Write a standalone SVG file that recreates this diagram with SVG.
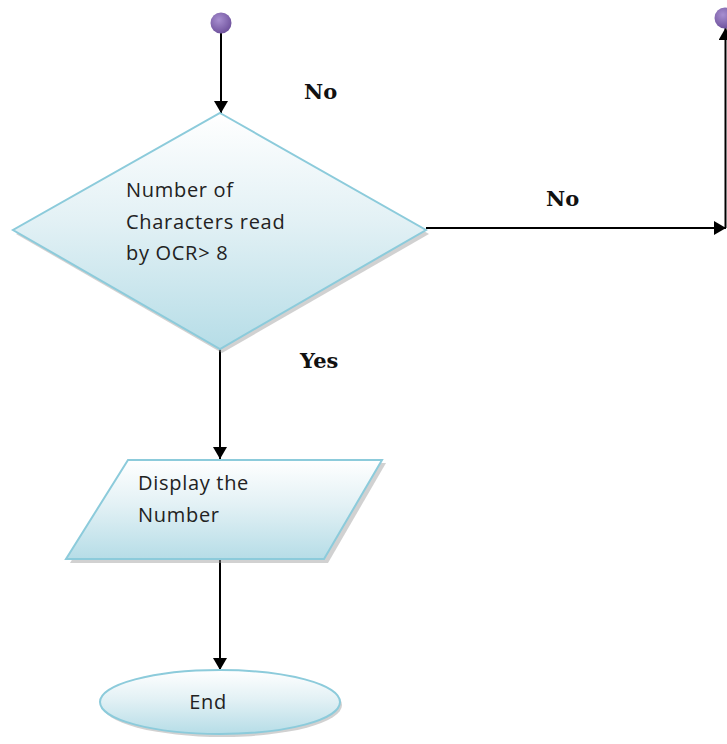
<svg xmlns="http://www.w3.org/2000/svg" width="727" height="744" viewBox="0 0 727 744">
<defs>
<linearGradient id="fill" x1="0" y1="0" x2="0" y2="1">
<stop offset="0" stop-color="#ffffff"/>
<stop offset="0.45" stop-color="#e3f1f5"/>
<stop offset="1" stop-color="#b6dde7"/>
</linearGradient>
<radialGradient id="dot" cx="0.4" cy="0.35" r="0.7">
<stop offset="0" stop-color="#a88fd0"/>
<stop offset="1" stop-color="#6c4f9a"/>
</radialGradient>
<marker id="arr" viewBox="0 0 12 14" refX="12" refY="7" markerWidth="12" markerHeight="14" markerUnits="userSpaceOnUse" orient="auto">
<path d="M0,0 L12,7 L0,14 Z" fill="#000"/>
</marker>
</defs>
<style>
.shape{fill:url(#fill);stroke:#8ccbdb;stroke-width:2}
.shadow{fill:#9a9a9a;opacity:0.45}
.lbl{font-family:"Open Sans","Liberation Sans",sans-serif;font-size:20px;letter-spacing:0.7px;fill:#222}
.yn{font-family:"DejaVu Serif","Liberation Serif",serif;font-weight:bold;font-size:21px;fill:#111}
.con{stroke:#000;stroke-width:2;fill:none}
</style>
<rect width="727" height="744" fill="#fff"/>
<g id="connectors">
<line class="con" x1="221" y1="30" x2="221" y2="113" marker-end="url(#arr)"/>
<line class="con" x1="426" y1="228" x2="726" y2="228" marker-end="url(#arr)"/>
<line class="con" x1="725.5" y1="228" x2="725.5" y2="28" marker-end="url(#arr)"/>
<line class="con" x1="220" y1="349" x2="220" y2="459" marker-end="url(#arr)"/>
<line class="con" x1="220" y1="558" x2="220" y2="670" marker-end="url(#arr)"/>
</g>
<g id="start">
<circle cx="221" cy="23" r="10.5" fill="url(#dot)"/>
</g>
<g id="connector-end">
<circle cx="725" cy="18" r="10.5" fill="url(#dot)"/>
</g>
<g id="decision">
<polygon class="shadow" points="222,117 429,234 222,353 16,234"/>
<polygon class="shape" points="220,113 426,230 220,349 13,230"/>
<text class="lbl" x="126" y="197">Number of</text>
<text class="lbl" x="126" y="229">Characters read</text>
<text class="lbl" x="126" y="260">by OCR&gt; 8</text>
</g>
<g id="display">
<polygon class="shadow" points="131,463 386,463 328,563 70,563"/>
<polygon class="shape" points="128,460 382,460 324,559 66,559"/>
<text class="lbl" x="138" y="490">Display the</text>
<text class="lbl" x="138" y="522">Number</text>
</g>
<g id="end">
<ellipse class="shadow" cx="222" cy="705" rx="120" ry="32"/>
<ellipse class="shape" cx="220" cy="702" rx="120" ry="32"/>
<text class="lbl" x="208" y="709" text-anchor="middle">End</text>
</g>
<g id="labels">
<text class="yn" x="304" y="99">No</text>
<text class="yn" x="546" y="206">No</text>
<text class="yn" x="300" y="368">Yes</text>
</g>
</svg>
